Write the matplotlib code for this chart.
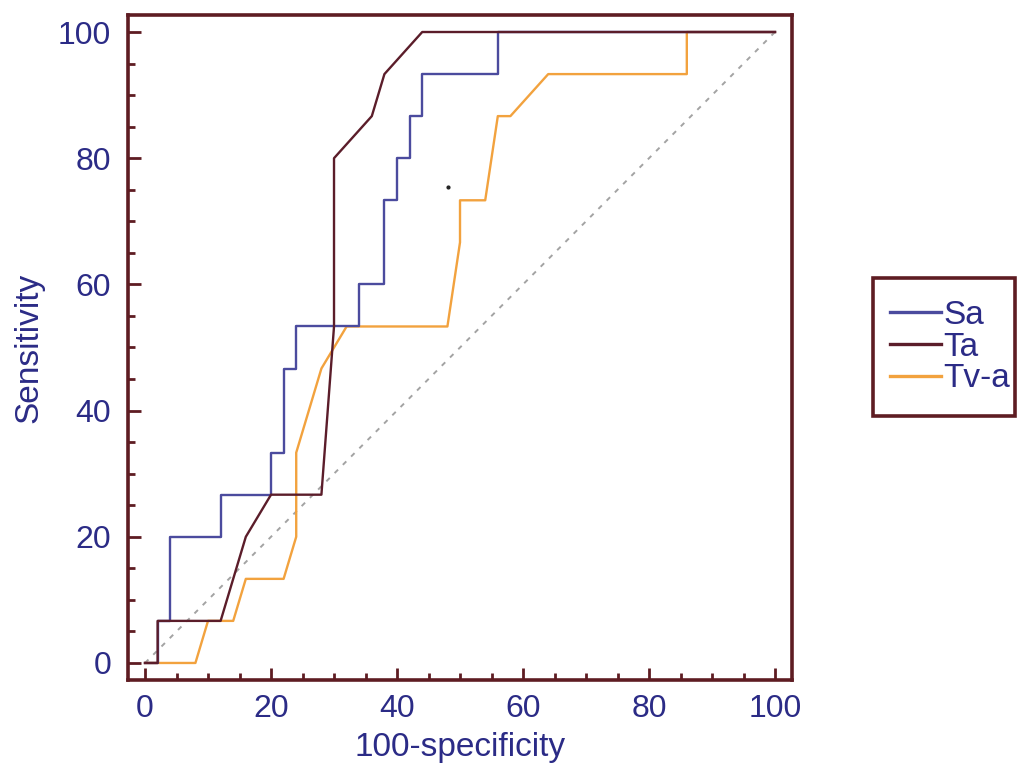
import matplotlib
matplotlib.use('Agg')
from matplotlib import pyplot as plt
from matplotlib.patches import Rectangle

# ROC points (100-specificity, sensitivity)
sa_x = [0, 2, 2, 4, 4, 12, 12, 20, 20, 22, 22, 24, 24, 34, 34, 38, 38, 40, 40, 42, 42, 44, 44, 56, 56, 100]
sa_y = [0, 0, 6.67, 6.67, 20, 20, 26.67, 26.67, 33.33, 33.33, 46.67, 46.67, 53.33, 53.33, 60, 60,
        73.33, 73.33, 80, 80, 86.67, 86.67, 93.33, 93.33, 100, 100]

ta_x = [0, 2, 2, 12, 16, 20, 28, 29, 30, 30, 36, 38, 44, 100]
ta_y = [0, 0, 6.67, 6.67, 20, 26.67, 26.67, 40, 53.33, 80, 86.67, 93.33, 100, 100]

tva_x = [0, 8, 10, 14, 16, 22, 24, 24, 26, 28, 32, 48, 50, 50, 54, 56, 58, 64, 86, 86, 100]
tva_y = [0, 0, 6.67, 6.67, 13.33, 13.33, 20, 33.33, 40, 46.67, 53.33, 53.33, 66.67, 73.33,
         73.33, 86.67, 86.67, 93.33, 93.33, 100, 100]

diag = [0, 100]
ticks = [0, 20, 40, 60, 80, 100]
minor_ticks = list(range(0, 101, 5))

frame_col = '#5e1c22'
text_col = '#2b2b86'

plt.rcParams['font.family'] = ['Liberation Sans', 'DejaVu Sans']

fig = plt.figure(figsize=(10.29, 7.8), dpi=100)
ax = fig.add_axes([0.1244, 0.1282, 0.6453, 0.8526])

ax.plot(diag, diag, color='#a3a3a3', lw=1.4, dashes=(2.5, 3.5), zorder=1)
ax.plot(sa_x, sa_y, color='#4b4b9e', lw=1.7, label='Sa', zorder=3)
ax.plot(ta_x, ta_y, color='#5b1d2a', lw=1.7, label='Ta', zorder=4)
ax.plot(tva_x, tva_y, color='#f2a23e', lw=1.7, label='Tv-a', zorder=2)
ax.plot([48.1], [75.4], marker='o', ms=2, color='#222222', ls='none')

ax.set_xlim(-2.7, 102.7)
ax.set_ylim(-2.7, 102.7)
ax.set_xticks(ticks)
ax.set_yticks(ticks)
ax.set_xticks(minor_ticks, minor=True)
ax.set_yticks(minor_ticks, minor=True)
ax.tick_params(which='both', direction='in', colors=frame_col, width=2,
               labelcolor=text_col, labelsize=23)
ax.tick_params(which='major', length=9, pad=10)
ax.tick_params(which='minor', length=5)
ax.tick_params(axis='y', which='major', pad=12)
for s in ax.spines.values():
    s.set_color(frame_col)
    s.set_linewidth(2.6)

ax.set_xlabel('100-specificity', fontsize=24, color=text_col, labelpad=6)
ax.set_ylabel('Sensitivity', fontsize=24, color=text_col, labelpad=10)

# legend box drawn separately so its size matches the picture
box = Rectangle((873 / 1029, 1 - 416 / 780), 142 / 1029, 138 / 780,
                transform=fig.transFigure, fill=False, edgecolor=frame_col, lw=2.6)
fig.patches.append(box)
leg = fig.legend(loc='center', bbox_to_anchor=(950 / 1029, 1 - 347 / 780), fontsize=24,
                 frameon=False, handlelength=1.55, handletextpad=0.06, labelspacing=0.02,
                 borderpad=0)
for t in leg.get_texts():
    t.set_color(text_col)
for h in leg.get_lines():
    h.set_linewidth(2.4)

plt.savefig('out.png', dpi=100)
